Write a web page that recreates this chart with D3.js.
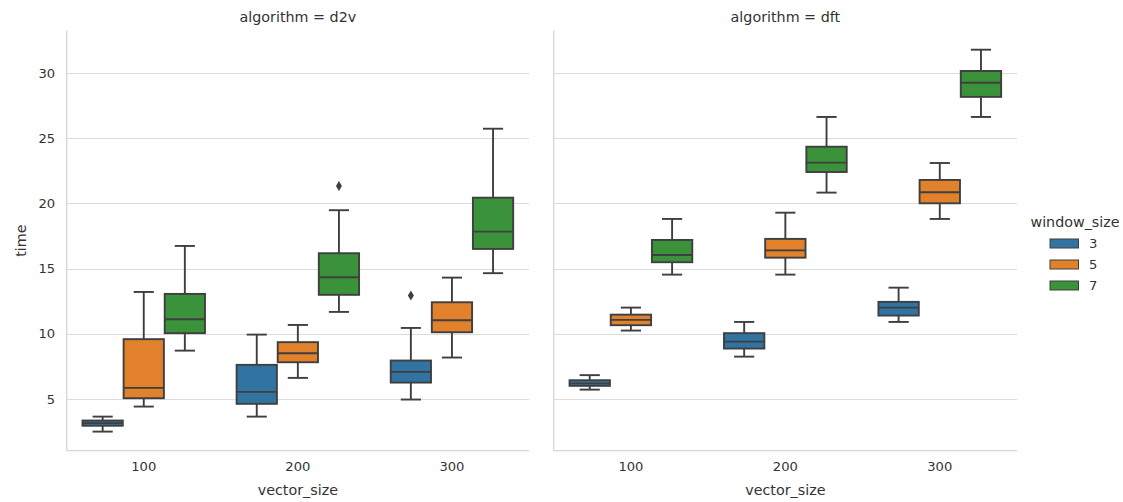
<!DOCTYPE html>
<html>
<head>
<meta charset="utf-8">
<script src="https://cdn.jsdelivr.net/npm/d3@7"></script>
<style>
  html, body { margin: 0; padding: 0; background: #fff; }
  svg { display: block; font-family: "DejaVu Sans", sans-serif; }
</style>
</head>
<body>
<svg id="chart" width="1123" height="502"></svg>
<script>
// Facets, categories and hue levels
const algorithms = ["d2v", "dft"];
const vectorSizes = [100, 200, 300];
const windowSizes = [3, 5, 7];
const yTicks = [5, 10, 15, 20, 25, 30];

// Box summaries per vector_size: [lower whisker, Q1, median, Q3, upper whisker]
const d2vW3 = [[2.50, 2.95, 3.15, 3.35, 3.65], [3.65, 4.63, 5.55, 7.62, 9.94], [4.96, 6.26, 7.08, 7.95, 10.45]];
const d2vW5 = [[4.42, 5.06, 5.85, 9.59, 13.21], [6.62, 7.82, 8.51, 9.36, 10.68], [8.18, 10.12, 11.04, 12.42, 14.31]];
const d2vW7 = [[8.71, 10.05, 11.12, 13.06, 16.74], [11.68, 12.99, 14.34, 16.18, 19.48], [14.65, 16.51, 17.84, 20.44, 25.73]];
const dftW3 = [[5.72, 6.01, 6.20, 6.44, 6.83], [8.25, 8.87, 9.40, 10.05, 10.91], [10.91, 11.40, 12.01, 12.45, 13.54]];
const dftW5 = [[10.25, 10.66, 11.07, 11.47, 12.01], [14.54, 15.84, 16.40, 17.28, 19.29], [18.81, 20.01, 20.86, 21.80, 23.10]];
const dftW7 = [[14.54, 15.49, 16.05, 17.20, 18.81], [20.83, 22.41, 23.13, 24.35, 26.63], [26.63, 28.17, 29.26, 30.16, 31.79]];

// Outliers: [algorithm, vector_size, window_size, time]
const outliers = [["d2v", 200, 7, 21.33], ["d2v", 300, 3, 12.93]];

const palette = ["#3274a1", "#e1812c", "#3a923a"];
const lineGray = "#3f3f3f";
const textColor = "#333";

const stats = { d2v: [d2vW3, d2vW5, d2vW7], dft: [dftW3, dftW5, dftW7] };

const svg = d3.select("#chart");
const W = 1123, H = 502;
svg.append("rect").attr("width", W).attr("height", H).attr("fill", "#fff");

const plotTop = 30.6, plotBottom = 450.7;
const panels = [
  { alg: "d2v", x0: 66.7, x1: 529 },
  { alg: "dft", x0: 553.7, x1: 1017 }
];

// Shared y scale with 5% margins around the data range
const allVals = [];
algorithms.forEach(a => stats[a].forEach(s => s.forEach(b => allVals.push(b[0], b[4]))));
outliers.forEach(o => allVals.push(o[3]));
const [lo, hi] = d3.extent(allVals);
const pad = (hi - lo) * 0.05;
const y = d3.scaleLinear().domain([lo - pad, hi + pad]).range([plotBottom, plotTop]);

const hue = d3.scaleOrdinal().domain(windowSizes).range(palette);

panels.forEach(p => {
  const g = svg.append("g");
  const x = d3.scaleBand().domain(vectorSizes).range([p.x0, p.x1]).padding(0);
  const xh = d3.scaleBand().domain(windowSizes).range([0, x.bandwidth()])
    .paddingInner(0).paddingOuter(0.375);
  const boxW = xh.bandwidth() * 0.98;

  // Grid lines
  g.append("g").selectAll("line").data(yTicks).join("line")
    .attr("x1", p.x0).attr("x2", p.x1)
    .attr("y1", d => Math.round(y(d)) + 0.5).attr("y2", d => Math.round(y(d)) + 0.5)
    .attr("stroke", "#dcdcdc").attr("stroke-width", 1.2);

  // Spines
  g.append("line").attr("x1", p.x0).attr("x2", p.x0).attr("y1", plotTop).attr("y2", plotBottom)
    .attr("stroke", "#d6d6d6").attr("stroke-width", 1.3);
  g.append("line").attr("x1", p.x0).attr("x2", p.x1).attr("y1", plotBottom).attr("y2", plotBottom)
    .attr("stroke", "#d6d6d6").attr("stroke-width", 1.3);

  // Y tick labels (first panel only)
  if (p.alg === "d2v") {
    g.append("g").selectAll("text").data(yTicks).join("text")
      .attr("x", p.x0 - 11.5).attr("y", d => y(d)).attr("dy", "0.35em")
      .attr("text-anchor", "end").attr("font-size", 13.1).attr("fill", textColor)
      .text(d => d);
    svg.append("text")
      .attr("transform", `translate(${p.x0 - 41},${(plotTop + plotBottom) / 2}) rotate(-90)`)
      .attr("text-anchor", "middle").attr("font-size", 14.3).attr("fill", textColor)
      .text("time");
  }

  // X tick labels
  g.append("g").selectAll("text").data(vectorSizes).join("text")
    .attr("x", d => x(d) + x.bandwidth() / 2).attr("y", plotBottom + 16)
    .attr("dy", "0.35em").attr("text-anchor", "middle")
    .attr("font-size", 13.1).attr("fill", textColor).text(d => d);

  // Axis label and facet title
  g.append("text").attr("x", (p.x0 + p.x1) / 2).attr("y", plotBottom + 39)
    .attr("dy", "0.35em").attr("text-anchor", "middle")
    .attr("font-size", 14.3).attr("fill", textColor).text("vector_size");
  g.append("text").attr("x", (p.x0 + p.x1) / 2).attr("y", 17)
    .attr("dy", "0.35em").attr("text-anchor", "middle")
    .attr("font-size", 14.3).attr("fill", textColor).text(`algorithm = ${p.alg}`);

  // Boxes
  windowSizes.forEach((w, wi) => {
    stats[p.alg][wi].forEach((b, vi) => {
      const v = vectorSizes[vi];
      const cx = x(v) + xh(w) + xh.bandwidth() / 2;
      const [wl, q1, med, q3, wh] = b;
      const bg = g.append("g");
      const capW = boxW / 2;
      // whiskers
      bg.append("line").attr("x1", cx).attr("x2", cx).attr("y1", y(q3)).attr("y2", y(wh))
        .attr("stroke", lineGray).attr("stroke-width", 1.9);
      bg.append("line").attr("x1", cx).attr("x2", cx).attr("y1", y(q1)).attr("y2", y(wl))
        .attr("stroke", lineGray).attr("stroke-width", 1.9);
      // caps
      [wl, wh].forEach(c => bg.append("line")
        .attr("x1", cx - capW / 2).attr("x2", cx + capW / 2)
        .attr("y1", y(c)).attr("y2", y(c))
        .attr("stroke", lineGray).attr("stroke-width", 1.9));
      // box
      bg.append("rect").attr("x", cx - boxW / 2).attr("width", boxW)
        .attr("y", y(q3)).attr("height", y(q1) - y(q3))
        .attr("fill", hue(w)).attr("stroke", lineGray).attr("stroke-width", 1.9);
      // median
      bg.append("line").attr("x1", cx - boxW / 2).attr("x2", cx + boxW / 2)
        .attr("y1", y(med)).attr("y2", y(med))
        .attr("stroke", lineGray).attr("stroke-width", 1.9);
    });
  });

  // Outlier markers (thin diamonds)
  outliers.filter(o => o[0] === p.alg).forEach(o => {
    const cx = x(o[1]) + xh(o[2]) + xh.bandwidth() / 2;
    const cy = y(o[3]);
    g.append("path")
      .attr("d", `M${cx},${cy - 5}L${cx + 3},${cy}L${cx},${cy + 5}L${cx - 3},${cy}Z`)
      .attr("fill", lineGray);
  });
});

// Legend
const leg = svg.append("g");
leg.append("text").attr("x", 1075).attr("y", 221.5).attr("dy", "0.35em")
  .attr("text-anchor", "middle").attr("font-size", 14.3).attr("fill", textColor)
  .text("window_size");
const legRows = [243.5, 264.5, 285.5];
windowSizes.forEach((w, i) => {
  leg.append("rect").attr("x", 1050).attr("y", legRows[i] - 4.5).attr("width", 28.5).attr("height", 9)
    .attr("fill", hue(w)).attr("stroke", lineGray).attr("stroke-width", 1);
  leg.append("text").attr("x", 1089).attr("y", legRows[i]).attr("dy", "0.35em")
    .attr("font-size", 13.1).attr("fill", textColor).text(w);
});
</script>
</body>
</html>
